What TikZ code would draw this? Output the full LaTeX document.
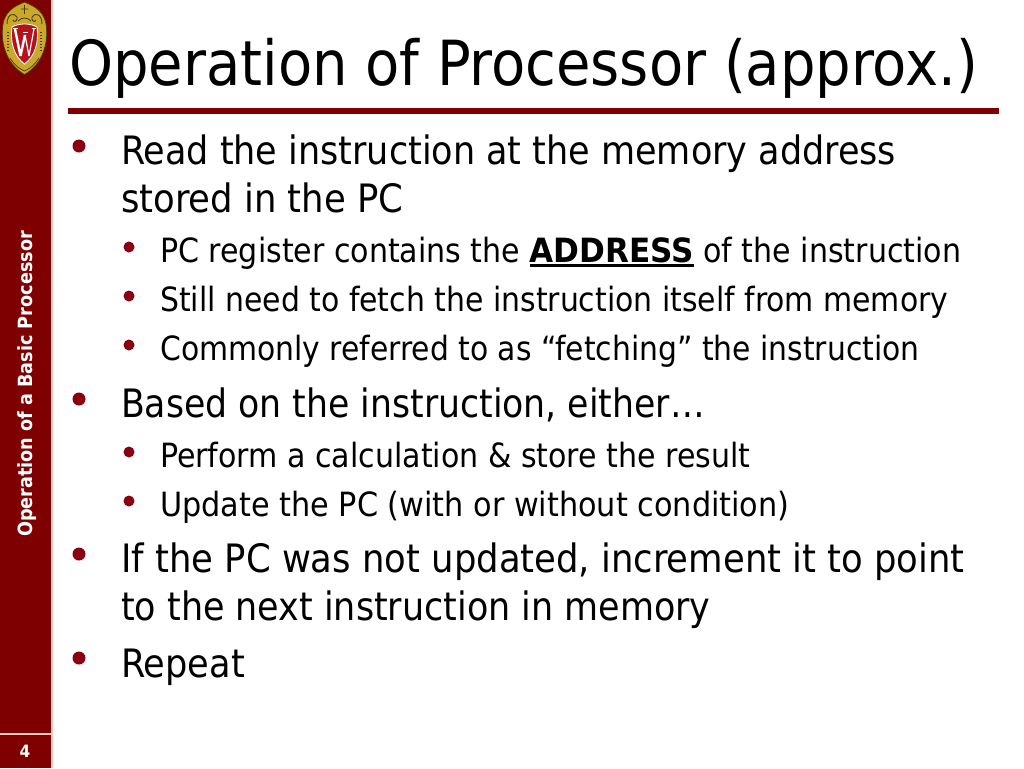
\documentclass[tikz,border=0pt]{standalone}
\usepackage{fontspec}
\usepackage{graphicx}
\setmainfont{DejaVu Sans Condensed}
\definecolor{wred}{HTML}{7F0000}
\definecolor{wbullet}{HTML}{8A0010}
\definecolor{wpink}{HTML}{FFC8C0}
\definecolor{wgold}{HTML}{C9A82A}
\definecolor{wdark}{HTML}{4A3A10}
\definecolor{wcrest}{HTML}{B5121B}
\newsavebox{\ulbox}
\newcommand{\ulword}[1]{\sbox{\ulbox}{#1}\rlap{\rule[-5pt]{\wd\ulbox}{3pt}}\usebox{\ulbox}}
\newcommand{\sx}[2]{\scalebox{#1}[1]{#2}}
\tikzset{
 titletext/.style={anchor=base west,inner sep=0pt,font=\fontsize{62.2pt}{62pt}\selectfont},
 leveltwo/.style={anchor=base west,inner sep=0pt,font=\fontsize{39.1pt}{39pt}\selectfont},
 levelthree/.style={anchor=base west,inner sep=0pt,font=\fontsize{33.4pt}{33pt}\selectfont},
 dotone/.style={circle,fill=wbullet,inner sep=0pt,minimum size=13pt},
 dottwo/.style={circle,fill=wbullet,inner sep=0pt,minimum size=11pt},
}
\begin{document}
\begin{tikzpicture}[x=1pt,y=-1pt]
\useasboundingbox (0,0) rectangle (1024,768);
\fill[white] (0,0) rectangle (1024,768);
\fill[wred] (0,0) rectangle (51,768);
\fill[wpink] (51,0) rectangle (52.5,768);
\fill[wpink] (0,733) rectangle (51,735);
\fill[wred] (68,108) rectangle (999,114);
% crest
\fill[wgold,draw=wdark,line width=.7pt] (24.5,2) .. controls (30,5) and (43,8) .. (46,24) .. controls (49,42) and (43,64) .. (24.5,74.5) .. controls (6,64) and (0,42) .. (3,24) .. controls (6,8) and (19,5) .. (24.5,2) -- cycle;
\draw[wdark,line width=.9pt] (7,24) .. controls (7,14) and (14,12) .. (17,17) .. controls (18,21) and (14,23) .. (13,20);
\draw[wdark,line width=.9pt] (42,24) .. controls (42,14) and (35,12) .. (32,17) .. controls (31,21) and (35,23) .. (36,20);
\draw[wdark,line width=.8pt] (24.5,5) -- (24.5,14) (21,9) -- (28,9) (18,21) .. controls (22,17) and (27,17) .. (31,21);
\draw[wdark,line width=1.6pt,dash pattern=on 1.5pt off 1.5pt] (8,32) -- (8,52);
\draw[wdark,line width=1.6pt,dash pattern=on 1.5pt off 1.5pt] (41,32) -- (41,52);
\draw[wdark,line width=.7pt] (10,58) .. controls (15,66) and (20,69) .. (24.5,71) .. controls (29,69) and (34,66) .. (39,58);
\fill[wcrest,draw=white,line width=.8pt] (12,27) .. controls (19,23) and (30,23) .. (37,27) .. controls (39,43) and (35,56) .. (24.5,64) .. controls (14,56) and (10,43) .. (12,27) -- cycle;
\draw[white,line width=2.4pt,line join=bevel] (15,29) -- (20.5,56) -- (25,35);
\draw[white,line width=1.2pt,line join=bevel] (25,35) -- (29,56) -- (34,29);
\draw[white,line width=1pt] (13,29) -- (18,29) (23,33) -- (27.5,33) (31.5,29) -- (36,29);
\node[titletext] (title) at (69,85) {Operation of Processor (approx.)};
\node[leveltwo] (a) at (121,164) {\sx{.995}{Read the instruction at the memory address}};
\node[leveltwo] (a2) at (121,212) {\sx{1.007}{stored in the PC}};
\node[levelthree] (b) at (160,262) {PC register contains the \ulword{\scalebox{1.035}[1]{\textbf{ADDRESS}}} of the instruction};
\node[levelthree] (c) at (160,311) {\sx{.995}{Still need to fetch the instruction itself from memory}};
\node[levelthree] (d) at (160,360) {\sx{.992}{Commonly referred to as “fetching” the instruction}};
\node[leveltwo] (e) at (121,417) {\sx{.986}{Based on the instruction, either…}};
\node[levelthree] (f) at (160,467) {Perform a calculation \& store the result};
\node[levelthree] (g) at (160,516) {\sx{1.008}{Update the PC (with or without condition)}};
\node[leveltwo] (h) at (121,572) {\sx{1.007}{If the PC was not updated, increment it to point}};
\node[leveltwo] (h2) at (121,620) {\sx{.993}{to the next instruction in memory}};
\node[leveltwo] (i) at (121,677) {Repeat};
\foreach \n/\y in {p1/146,p2/399,p3/554,p4/658} \node[dotone] (\n) at (79,\y) {};
\foreach \n/\y in {q1/247,q2/296,q3/345,q4/452,q5/501} \node[dottwo] (\n) at (129,\y) {};
\node[rotate=90,text=white,font=\bfseries\fontsize{19.6pt}{19.6pt}\selectfont,inner sep=0pt] (side) at (27,384) {Operation of a Basic Processor};
\node[text=white,font=\bfseries\fontsize{17pt}{17pt}\selectfont,inner sep=0pt] (num) at (25,751) {4};
\end{tikzpicture}
\end{document}
